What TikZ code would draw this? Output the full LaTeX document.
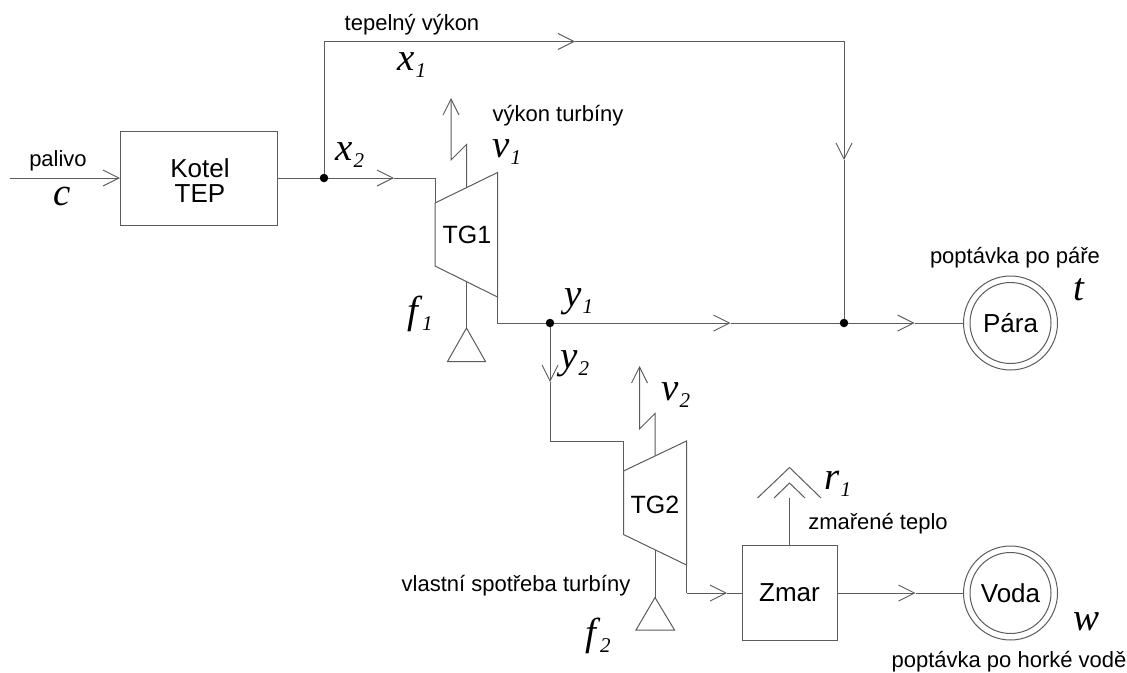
\documentclass[tikz,border=0pt]{standalone}
\usepackage{fontspec}
\setmainfont{Liberation Sans}
\newfontfamily\mifont{Liberation Serif}
\usetikzlibrary{arrows.meta}
\definecolor{ln}{gray}{0.36}
\newcommand{\qty}[2]{{\mifont\itshape\fontsize{39}{39}\selectfont #1\kern0.5pt\raisebox{-7pt}{\fontsize{21}{21}\selectfont #2}}}
\tikzset{
  wire/.style={draw=ln,line width=1pt},
  flow/.style={wire,-{Straight Barb[length=16pt,width=16pt,line width=0.9pt]}},
  blockbox/.style={wire,inner sep=0pt,align=center,font=\fontsize{26}{26}\selectfont},
  txt/.style={inner sep=0pt,font=\fontsize{22}{22}\selectfont},
  big/.style={inner sep=0pt,font=\fontsize{26}{26}\selectfont},
  sym/.style={inner sep=0pt},
  ringo/.style={circle,wire,minimum size=94pt,inner sep=0pt},
  ringi/.style={circle,wire,minimum size=81pt,inner sep=0pt,font=\fontsize{26}{26}\selectfont},
  jdot/.style={circle,fill=black,minimum size=8.5pt,inner sep=0pt},
  blade/.style={wire,line join=miter},
}
\begin{document}
\begin{tikzpicture}[x=1pt,y=-1pt]
\path[use as bounding box,fill=white] (0,0) rectangle (1127,672);
% blocks
\node[blockbox,minimum width=157pt,minimum height=94pt] (kotel) at (199,178) {};
\node[big] (kotelA) at (200,168) {Kotel};
\node[big] (kotelB) at (200,194) {TEP};
\node[blockbox,minimum width=95pt,minimum height=95pt] (zmar) at (789.5,593) {Zmar};
\node[ringo] (paraO) at (1010.5,323) {};
\node[ringi] (para) at (1010.5,323) {Pára};
\node[ringo] (vodaO) at (1010.5,593) {};
\node[ringi] (voda) at (1010.5,593) {Voda};
% junctions
\node[jdot] (j1) at (324,178) {};
\node[jdot] (j2) at (550,323) {};
\node[jdot] (j3) at (844,323) {};
% free coordinates
\coordinate (in) at (10,178);
\coordinate (ina) at (120,178);
\coordinate (x2a) at (394,178);
\coordinate (t1in) at (435,178);
\coordinate (t1tl) at (435,203);
\coordinate (t1tr) at (497.5,172.5);
\coordinate (t1br) at (497.5,297);
\coordinate (t1bl) at (435,266);
\coordinate (t1out) at (497.5,323);
\coordinate (c1) at (324,41.5);
\coordinate (c1a) at (575,41.5);
\coordinate (c2) at (844,41.5);
\coordinate (c2a) at (844,160);
\coordinate (y1a) at (730.5,323);
\coordinate (pa) at (914.5,323);
\coordinate (y2a) at (550,382);
\coordinate (d1) at (550,441);
\coordinate (t2in) at (623.5,441);
\coordinate (t2tl) at (623.5,471);
\coordinate (t2tr) at (686.5,441);
\coordinate (t2br) at (686.5,565);
\coordinate (t2bl) at (623.5,534.5);
\coordinate (t2out) at (686.5,593);
\coordinate (za) at (727,593);
\coordinate (va) at (915.5,593);
% feeds
\draw[flow] (in) -- (ina);
\draw[wire] (kotel.east) -- (j1);
\draw[flow] (j1) -- (x2a);
\draw[wire] (x2a) -- (t1in) -- (t1tl);
\draw[flow] (j1) -- (c1) -- (c1a);
\draw[flow] (c1a) -- (c2) -- (c2a);
\draw[wire] (c2a) -- (j3);
% TG1
\draw[blade] (t1tl) -- (t1tr) -- (t1br) -- (t1bl) -- cycle;
\node[inner sep=0pt,font=\fontsize{25}{25}\selectfont] (tg1) at (467,235) {TG1};
\draw[wire] (t1br) -- (t1out) -- (j2);
\draw[flow] (j2) -- (y1a);
\draw[wire] (y1a) -- (j3);
\draw[flow] (j3) -- (pa);
\draw[wire] (pa) -- (paraO.west);
% TG1 shaft
\coordinate (s1a) at (466.5,188);
\coordinate (s1b) at (466.5,144.5);
\coordinate (s1c) at (451,160);
\coordinate (s1d) at (451,98);
\draw[flow] (s1a) -- (s1b) -- (s1c) -- (s1d);
\coordinate (s1e) at (466.5,281.5);
\coordinate (s1f) at (466.5,328);
\coordinate (s1g) at (447.5,361.5);
\coordinate (s1h) at (485.5,361.5);
\draw[wire] (s1e) -- (s1f);
\draw[wire] (s1f) -- (s1g) -- (s1h) -- cycle;
% TG2
\draw[flow] (j2) -- (y2a);
\draw[wire] (y2a) -- (d1) -- (t2in) -- (t2tl);
\draw[blade] (t2tl) -- (t2tr) -- (t2br) -- (t2bl) -- cycle;
\node[inner sep=0pt,font=\fontsize{25}{25}\selectfont] (tg2) at (655,505) {TG2};
\coordinate (s2a) at (655,456);
\coordinate (s2b) at (655,413.5);
\coordinate (s2c) at (639.5,429);
\coordinate (s2d) at (639.5,366);
\draw[flow] (s2a) -- (s2b) -- (s2c) -- (s2d);
\coordinate (s2e) at (655,550);
\coordinate (s2f) at (655,597.5);
\coordinate (s2g) at (636,630);
\coordinate (s2h) at (674.5,630);
\draw[wire] (s2e) -- (s2f);
\draw[wire] (s2f) -- (s2g) -- (s2h) -- cycle;
\draw[wire] (t2br) -- (t2out);
\draw[flow] (t2out) -- (za);
\draw[wire] (za) -- (zmar.west);
% Zmar outputs
\coordinate (ch) at (789.5,498);
\draw[wire] (zmar.north) -- (ch);
\coordinate (ci) at (789.5,483);
\coordinate (co) at (789.5,467.5);
\draw[wire] (774,498) -- (ci) -- (805,498);
\draw[wire] (757.5,498) -- (co) -- (821,498);
\draw[flow] (zmar.east) -- (va);
\draw[wire] (va) -- (vodaO.west);
% sans labels
\node[txt] (l1) at (412,25) {tepelný výkon};
\node[txt] (l2) at (58,161) {palivo};
\node[txt] (l3) at (558,116) {výkon turbíny};
\node[txt] (l4) at (1015,258) {poptávka po páře};
\node[txt] (l5) at (878,524) {zmařené teplo};
\node[txt] (l6) at (516,586) {vlastní spotřeba turbíny};
\node[txt] (l7) at (1009,662) {poptávka po horké vodě};
% symbols
\node[sym] (q1) at (412,65) {\qty{x}{1}};
\node[sym] (q2) at (350,155) {\qty{x}{2}};
\node[sym] (q3) at (62,200) {\qty{c}{}};
\node[sym] (q4) at (507,152) {\qty{v}{1}};
\node[sym] (q5) at (420,314) {\qty{f}{\,1}};
\node[sym] (q6) at (579,302) {\qty{y}{1}};
\node[sym] (q7) at (575,364) {\qty{y}{2}};
\node[sym] (q8) at (676,395) {\qty{v}{2}};
\node[sym] (q9) at (838,484) {\qty{r}{1}};
\node[sym] (q10) at (1079,293) {\qty{t}{}};
\node[sym] (q11) at (1087,625) {\qty{w}{}};
\node[sym] (q12) at (598,636) {\qty{f}{\,2}};
\end{tikzpicture}
\end{document}
